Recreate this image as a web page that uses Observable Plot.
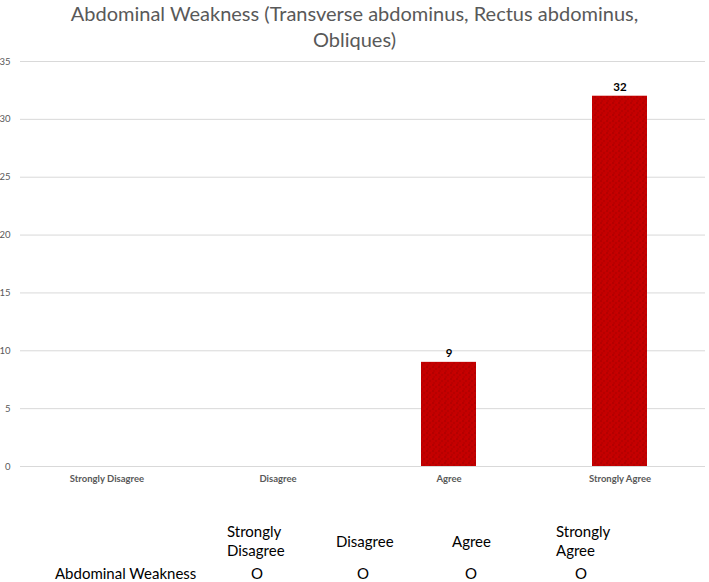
<!DOCTYPE html>
<html>
<head>
<meta charset="utf-8">
<script src="https://cdn.jsdelivr.net/npm/d3@7"></script>
<script src="https://cdn.jsdelivr.net/npm/@observablehq/plot@0.6"></script>
<style>
  html, body { margin: 0; padding: 0; background: #fff; }
  #wrap { position: relative; width: 709px; height: 582px; overflow: hidden; font-family: "Lato", sans-serif; }
  #title { position: absolute; left: 0; top: 0; width: 709px; text-align: center; color: #595959; font-size: 20px; line-height: 26px; }
  #chart { position: absolute; left: 0; top: 0; }
  .cell { position: absolute; font-size: 15px; color: #000; line-height: 19px; white-space: nowrap; }
</style>
</head>
<body>
<div id="wrap">
  <div id="chart"></div>
  <div id="title"></div>
  <div id="table"></div>
</div>
<script>
const titleLines = ["Abdominal Weakness (Transverse abdominus, Rectus abdominus,", "Obliques)"];
const categories = ["Strongly Disagree", "Disagree", "Agree", "Strongly Agree"];
const values = [0, 0, 9, 32];
const yTicks = [0, 5, 10, 15, 20, 25, 30, 35];
const tableHeaders = [["Strongly", "Disagree"], ["Disagree"], ["Agree"], ["Strongly", "Agree"]];
const tableRowLabel = "Abdominal Weakness";
const tableValues = ["O", "O", "O", "O"];

const data = categories.map((c, i) => ({category: c, value: values[i]}));

document.getElementById("title").innerHTML = titleLines.join("<br>");

const plot = Plot.plot({
  width: 709,
  height: 500,
  marginTop: 61,
  marginBottom: 34,
  marginLeft: 20,
  marginRight: 4,
  style: {fontFamily: '"Lato", sans-serif', background: "transparent"},
  x: {domain: categories, paddingInner: 0.68, paddingOuter: 0.34, label: null},
  y: {domain: [0, 35], ticks: yTicks, label: null},
  marks: [
    Plot.gridY(yTicks, {stroke: "#d9d9d9", strokeOpacity: 1, strokeWidth: 1}),
    Plot.axisY({ticks: yTicks, tickSize: 0, tickPadding: 10, fontSize: 9.5, fill: "#595959", label: null}),
    Plot.axisX({tickSize: 0, tickPadding: 9, fontSize: 9.5, fontWeight: "bold", fill: "#595959", label: null}),
    Plot.barY(data, {x: "category", y: "value", fill: "url(#redtex)"}),
    Plot.text(data.filter(d => d.value > 0), {x: "category", y: "value", text: d => String(d.value), dy: -9, fontSize: 11.5, fontWeight: "bold", fill: "#000"})
  ]
});

// texture pattern for bars
const ns = "http://www.w3.org/2000/svg";
const defs = document.createElementNS(ns, "defs");
defs.innerHTML = `
  <pattern id="redtex" patternUnits="userSpaceOnUse" width="6" height="6">
    <rect width="6" height="6" fill="#c40000"/>
    <circle cx="1" cy="1" r="0.8" fill="#a00000"/>
    <circle cx="4" cy="3" r="0.8" fill="#a60000"/>
    <circle cx="2" cy="5" r="0.7" fill="#aa0000"/>
    <circle cx="5" cy="0.5" r="0.5" fill="#d20000"/>
  </pattern>`;
plot.insertBefore(defs, plot.firstChild);
document.getElementById("chart").appendChild(plot);

// data table below the chart
const table = document.getElementById("table");
const headerLeft = [227, 336, 452, 556];
const valueCenter = [257, 363, 471, 581];
tableHeaders.forEach((lines, i) => {
  const d = document.createElement("div");
  d.className = "cell";
  d.style.left = headerLeft[i] + "px";
  d.style.top = (541 - lines.length * 9.5) + "px";
  d.innerHTML = lines.join("<br>");
  table.appendChild(d);
});
const rl = document.createElement("div");
rl.className = "cell";
rl.style.left = "55px";
rl.style.top = "566px";
rl.style.lineHeight = "15px";
rl.textContent = tableRowLabel;
table.appendChild(rl);
tableValues.forEach((v, i) => {
  const d = document.createElement("div");
  d.className = "cell";
  d.style.left = (valueCenter[i] - 20) + "px";
  d.style.width = "40px";
  d.style.textAlign = "center";
  d.style.top = "566px";
  d.style.lineHeight = "15px";
  d.textContent = v;
  table.appendChild(d);
});
</script>
</body>
</html>
